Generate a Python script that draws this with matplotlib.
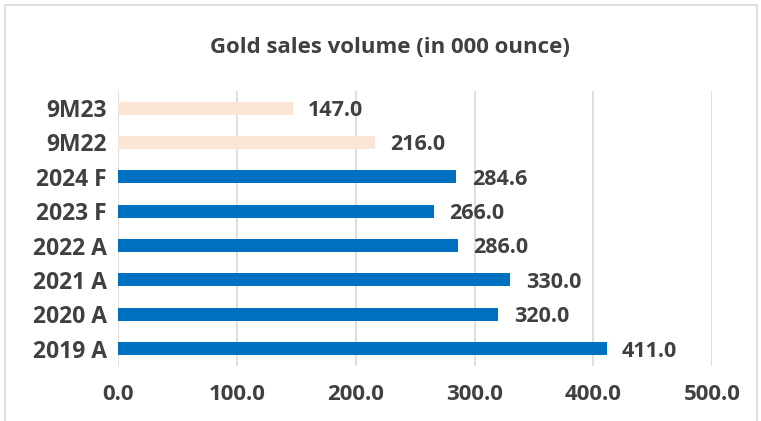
import matplotlib.pyplot as plt
from matplotlib.patches import Rectangle

categories = ["2019 A", "2020 A", "2021 A", "2022 A", "2023 F", "2024 F", "9M22", "9M23"]
volumes = [411.0, 320.0, 330.0, 286.0, 266.0, 284.6, 216.0, 147.0]
bar_colors = ["#0070C0"] * 6 + ["#FBE5D6"] * 2
xticks = [0, 100, 200, 300, 400, 500]

plt.rcParams['font.family'] = ['Open Sans', 'DejaVu Sans']
txt = "#404040"

fig = plt.figure(figsize=(7.61, 4.21), dpi=100)
ax = fig.add_axes([0.155, 0.131, 0.781, 0.653])

y = range(len(categories))
ax.barh(y, volumes, height=0.38, color=bar_colors, zorder=3)
for i, v in enumerate(volumes):
    ax.text(v + 13, i - 0.07, f"{v:.1f}", va="center", ha="left",
            fontsize=15.5, fontweight="bold", color=txt)

ax.set_xlim(0, 500)
ax.set_ylim(-0.5, len(categories) - 0.5)
ax.set_xticks(xticks)
ax.set_xticklabels([f"{t:.1f}" for t in xticks], fontsize=16, fontweight="bold", color=txt)
ax.set_yticks(list(y))
ax.set_yticklabels(categories, fontsize=16.5, fontweight="bold", color=txt)
ax.tick_params(length=0, pad=8)
ax.tick_params(axis="x", pad=13)
ax.grid(axis="x", color="#D9D9D9", linewidth=1.2, zorder=0)
for s in ax.spines.values():
    s.set_visible(False)

fig.text(0.513, 0.888, "Gold sales volume (in 000 ounce)", ha="center", va="center",
         fontsize=16, fontweight="bold", color=txt)

fig.patches.append(Rectangle((0.007, -0.02), 0.988, 1.008, transform=fig.transFigure,
                             fill=False, edgecolor="#D9D9D9", linewidth=1.2))

fig.savefig("out.png", dpi=100)
